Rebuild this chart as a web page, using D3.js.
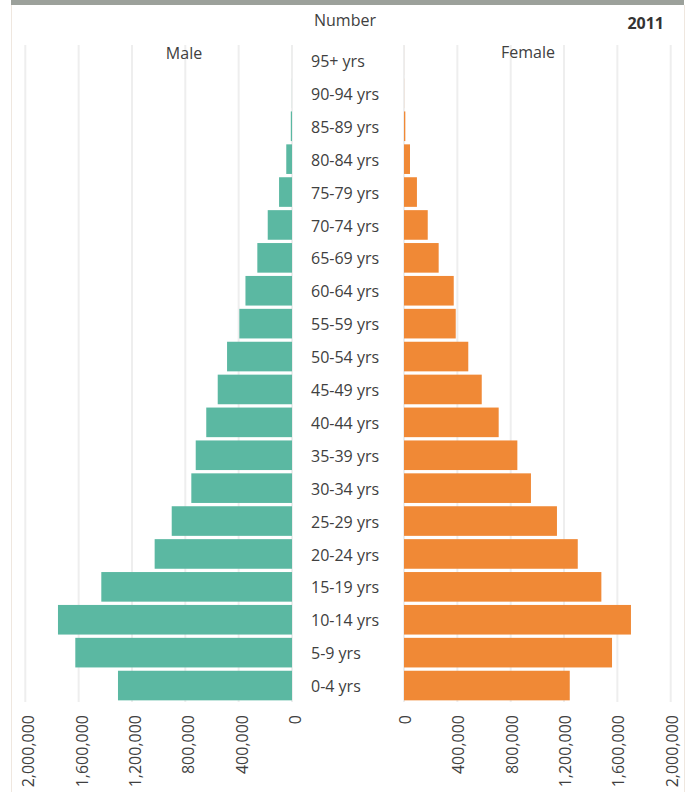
<!DOCTYPE html>
<html>
<head>
<meta charset="utf-8">
<script src="https://cdn.jsdelivr.net/npm/d3@7"></script>
<style>
  html, body { margin: 0; padding: 0; background: #fff; }
  svg { display: block; font-family: "Open Sans", "Noto Sans", sans-serif; }
</style>
</head>
<body>
<svg id="chart" width="693" height="792"></svg>
<script>
// ---- data ----
const ageGroups = ["95+ yrs","90-94 yrs","85-89 yrs","80-84 yrs","75-79 yrs","70-74 yrs","65-69 yrs",
  "60-64 yrs","55-59 yrs","50-54 yrs","45-49 yrs","40-44 yrs","35-39 yrs","30-34 yrs","25-29 yrs",
  "20-24 yrs","15-19 yrs","10-14 yrs","5-9 yrs","0-4 yrs"];
const maleValues = [100, 400, 9000, 43000, 97000, 182000, 260000,
  349000, 395000, 487000, 557000, 643000, 722000, 755000, 902000,
  1030000, 1430000, 1755000, 1625000, 1305000];
const femaleValues = [200, 600, 10000, 45000, 97000, 178000, 260000,
  373000, 388000, 482000, 583000, 710000, 850000, 952000, 1147000,
  1303000, 1480000, 1702000, 1560000, 1243000];
const tickValues = [0, 400000, 800000, 1200000, 1600000, 2000000];
const titleText = "Number";
const yearText = "2011";
const maleLabel = "Male";
const femaleLabel = "Female";

// ---- drawing ----
const svg = d3.select("#chart");
const textColor = "#404040";

// frame
svg.append("rect").attr("x", 11).attr("y", 0).attr("width", 673).attr("height", 5).attr("fill", "#9ca19b");
svg.append("line").attr("x1", 11.5).attr("x2", 11.5).attr("y1", 5).attr("y2", 792).attr("stroke", "#efe7df").attr("stroke-width", 1);
svg.append("line").attr("x1", 684.5).attr("x2", 684.5).attr("y1", 5).attr("y2", 792).attr("stroke", "#efe7df").attr("stroke-width", 1);

const y = d3.scaleBand().domain(ageGroups).range([44, 702]).paddingInner(0.1).paddingOuter(0.05);
const xMale = d3.scaleLinear().domain([0, 2000000]).range([292, 25.3]);
const xFemale = d3.scaleLinear().domain([0, 2000000]).range([404, 670.7]);

// gridlines
function grid(scale) {
  svg.append("g").selectAll("line").data(tickValues).join("line")
    .attr("x1", d => scale(d)).attr("x2", d => scale(d))
    .attr("y1", 45).attr("y2", 702)
    .attr("stroke", "#eeeeee").attr("stroke-width", 2);
}
grid(xMale);
grid(xFemale);

// bars
svg.append("g").selectAll("rect").data(ageGroups).join("rect")
  .attr("x", (d, i) => xMale(maleValues[i]))
  .attr("y", d => y(d))
  .attr("width", (d, i) => xMale(0) - xMale(maleValues[i]))
  .attr("height", y.bandwidth())
  .attr("fill", "#5bb8a2");

svg.append("g").selectAll("rect").data(ageGroups).join("rect")
  .attr("x", xFemale(0))
  .attr("y", d => y(d))
  .attr("width", (d, i) => xFemale(femaleValues[i]) - xFemale(0))
  .attr("height", y.bandwidth())
  .attr("fill", "#f08936");

// age labels
svg.append("g").selectAll("text").data(ageGroups).join("text")
  .attr("x", 311)
  .attr("y", d => y(d) + y.bandwidth() / 2 + 1)
  .attr("dy", "0.35em")
  .attr("fill", textColor)
  .style("font-size", "16px")
  .text(d => d);

// axes
function axis(scale, shift) {
  const g = svg.append("g").attr("transform", "translate(0,702)")
    .call(d3.axisBottom(scale).tickValues(tickValues).tickFormat(d3.format(",")).tickSize(0));
  g.select(".domain").remove();
  g.selectAll("text")
    .attr("transform", "rotate(-90)")
    .attr("x", -13).attr("y", shift).attr("dy", "0.35em")
    .style("text-anchor", "end")
    .style("font-size", "16px")
    .style("font-family", "\"Open Sans\", sans-serif")
    .attr("fill", textColor);
}
axis(xMale, 3);
axis(xFemale, 1);

// titles
svg.append("text").attr("x", 345).attr("y", 26).attr("text-anchor", "middle")
  .attr("fill", textColor).style("font-size", "16px").text(titleText);
svg.append("text").attr("x", 664).attr("y", 29).attr("text-anchor", "end")
  .attr("fill", "#333").style("font-size", "16px").style("font-weight", "bold").text(yearText);
svg.append("text").attr("x", 184).attr("y", 59).attr("text-anchor", "middle")
  .attr("fill", textColor).style("font-size", "16px").text(maleLabel);
svg.append("text").attr("x", 528).attr("y", 58).attr("text-anchor", "middle")
  .attr("fill", textColor).style("font-size", "16px").text(femaleLabel);
</script>
</body>
</html>
